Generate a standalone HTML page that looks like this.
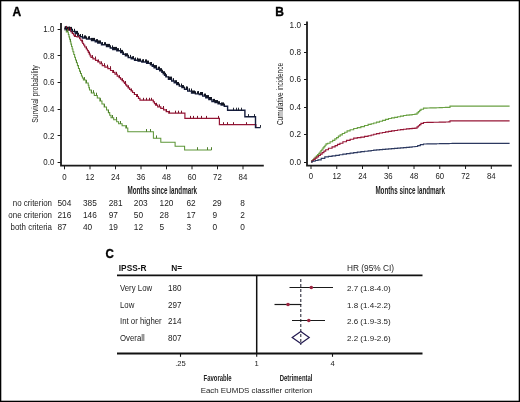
<!DOCTYPE html>
<html><head><meta charset="utf-8"><style>
html,body{margin:0;padding:0;background:#fff;}
svg{display:block;font-family:"Liberation Sans",sans-serif;will-change:transform;}
</style></head><body>
<svg width="520" height="402" viewBox="0 0 520 402">
<rect x="0.65" y="0.65" width="518.7" height="400.7" fill="none" stroke="#000" stroke-width="1.3"/><text x="12.6" y="16.0" font-size="12" text-anchor="start" font-weight="bold" fill="#000" stroke="#000" stroke-width="0.35">A</text><path d="M61,23 V165.7 H263.8" fill="none" stroke="#1a1a1a" stroke-width="1.8"/><line x1="57.6" y1="162.5" x2="61" y2="162.5" stroke="#1a1a1a" stroke-width="1"/><text transform="translate(54.3,165.3) scale(0.93,1)" font-size="8.5" text-anchor="end" font-weight="normal" fill="#222" >0.0</text><line x1="57.6" y1="135.5" x2="61" y2="135.5" stroke="#1a1a1a" stroke-width="1"/><text transform="translate(54.3,138.62) scale(0.93,1)" font-size="8.5" text-anchor="end" font-weight="normal" fill="#222" >0.2</text><line x1="57.6" y1="109.5" x2="61" y2="109.5" stroke="#1a1a1a" stroke-width="1"/><text transform="translate(54.3,111.94) scale(0.93,1)" font-size="8.5" text-anchor="end" font-weight="normal" fill="#222" >0.4</text><line x1="57.6" y1="82.5" x2="61" y2="82.5" stroke="#1a1a1a" stroke-width="1"/><text transform="translate(54.3,85.25999999999999) scale(0.93,1)" font-size="8.5" text-anchor="end" font-weight="normal" fill="#222" >0.6</text><line x1="57.6" y1="55.5" x2="61" y2="55.5" stroke="#1a1a1a" stroke-width="1"/><text transform="translate(54.3,58.57999999999999) scale(0.93,1)" font-size="8.5" text-anchor="end" font-weight="normal" fill="#222" >0.8</text><line x1="57.6" y1="29.5" x2="61" y2="29.5" stroke="#1a1a1a" stroke-width="1"/><text transform="translate(54.3,31.9) scale(0.93,1)" font-size="8.5" text-anchor="end" font-weight="normal" fill="#222" >1.0</text><line x1="64.50" y1="165.6" x2="64.50" y2="169.3" stroke="#1a1a1a" stroke-width="1"/><text transform="translate(64.5,179.7) scale(0.93,1)" font-size="8.5" text-anchor="middle" font-weight="normal" fill="#222" >0</text><line x1="90.00" y1="165.6" x2="90.00" y2="169.3" stroke="#1a1a1a" stroke-width="1"/><text transform="translate(90.0,179.7) scale(0.93,1)" font-size="8.5" text-anchor="middle" font-weight="normal" fill="#222" >12</text><line x1="115.50" y1="165.6" x2="115.50" y2="169.3" stroke="#1a1a1a" stroke-width="1"/><text transform="translate(115.5,179.7) scale(0.93,1)" font-size="8.5" text-anchor="middle" font-weight="normal" fill="#222" >24</text><line x1="141.00" y1="165.6" x2="141.00" y2="169.3" stroke="#1a1a1a" stroke-width="1"/><text transform="translate(141.0,179.7) scale(0.93,1)" font-size="8.5" text-anchor="middle" font-weight="normal" fill="#222" >36</text><line x1="166.50" y1="165.6" x2="166.50" y2="169.3" stroke="#1a1a1a" stroke-width="1"/><text transform="translate(166.5,179.7) scale(0.93,1)" font-size="8.5" text-anchor="middle" font-weight="normal" fill="#222" >48</text><line x1="192.00" y1="165.6" x2="192.00" y2="169.3" stroke="#1a1a1a" stroke-width="1"/><text transform="translate(192.0,179.7) scale(0.93,1)" font-size="8.5" text-anchor="middle" font-weight="normal" fill="#222" >60</text><line x1="217.50" y1="165.6" x2="217.50" y2="169.3" stroke="#1a1a1a" stroke-width="1"/><text transform="translate(217.5,179.7) scale(0.93,1)" font-size="8.5" text-anchor="middle" font-weight="normal" fill="#222" >72</text><line x1="243.00" y1="165.6" x2="243.00" y2="169.3" stroke="#1a1a1a" stroke-width="1"/><text transform="translate(243.0,179.7) scale(0.93,1)" font-size="8.5" text-anchor="middle" font-weight="normal" fill="#222" >84</text><text x="0" y="0" font-size="10.2" font-weight="bold" fill="#222" text-anchor="middle" transform="translate(162.3,193.8) scale(0.615,1)">Months since landmark</text><text x="0" y="0" font-size="8.6" font-weight="normal" fill="#222" text-anchor="middle" transform="translate(38.2,94) rotate(-90) scale(0.8,1)">Survival probability</text><path d="M64.60,28.50H66.30V32.00H68.00H68.32V34.43H68.96V36.86H69.61V39.29H70.25V41.71H70.89V44.14H71.54V46.57H72.18V49.00H72.50H72.92V51.75H73.78V54.50H74.62V57.25H75.48V60.00H75.90H76.41V62.80H77.44V65.60H78.46V68.40H79.49V71.20H80.00H80.47V73.55H81.43V75.90H81.90H82.40V77.90H83.40V79.90H83.90H85.90V82.90H87.90H88.22V85.27H88.85V87.63H89.48V90.00H89.80H91.30V93.00H92.80H94.30V95.50H97.30V98.00H98.80H99.85V101.00H101.95V104.00H103.00H104.17V107.00H106.53V110.00H107.70H108.37V112.60H109.70V115.20H111.03V117.80H111.70H113.70V119.80H115.70H116.67V121.80H118.62V123.80H119.60H122.10V125.80H124.60H125.80V128.00H127.00H127.80V131.80H128.60H153.40V138.20H160.80V142.30H175.10V146.20H184.60V150.00H211.50" fill="none" stroke="#5e9638" stroke-width="1.05" stroke-linejoin="miter"/><path d="M64.60,28.30H67.30V30.00H70.00H70.75V31.75H72.25V33.50H73.00H73.50V35.00H74.50V36.50H75.00H77.00V37.00H79.00H79.62V38.75H80.88V40.50H81.50H81.92V42.00H82.75V43.50H83.58V45.00H84.00H84.75V47.00H86.25V49.00H87.00H87.45V50.70H88.35V52.40H89.25V54.10H90.15V55.80H91.05V57.50H91.50H92.95V58.90H94.40H95.53V60.40H97.78V61.90H98.90H100.03V63.75H102.28V65.60H103.40H104.90V67.10H107.90V68.60H109.40H110.53V70.50H112.78V72.40H113.90H115.00V74.25H117.20V76.10H118.30H119.05V77.60H120.55V79.10H122.05V80.60H122.80H123.36V82.00H124.49V83.40H125.61V84.80H126.74V86.20H127.30H128.05V87.78H129.55V89.35H131.05V90.92H132.55V92.50H133.30H134.40V94.50H136.60V96.50H137.70H138.45V98.35H139.95V100.20H140.70H152.70H153.28V101.87H154.45V103.53H155.62V105.20H156.20H157.72V106.80H160.78V108.40H162.30H163.60V109.97H166.20V111.53H168.80V113.10H170.10H184.90V118.30H219.40V124.60H255.90V127.60" fill="none" stroke="#961636" stroke-width="1.2" stroke-linejoin="miter"/><path d="M64.60,28.80H67.30V29.50H70.00H72.00V31.50H74.00H75.25V33.50H77.75V35.50H79.00H80.25V36.75H82.75V38.00H84.00H86.50V39.00H89.00H91.50V40.50H94.00H95.25V41.75H97.75V43.00H99.00H101.50V44.80H104.00H106.50V46.50H109.00H110.25V48.00H112.75V49.50H114.00H116.80V50.80H119.60H120.70V52.50H122.90V54.20H124.00H125.40V55.85H128.20V57.50H129.60H131.25V58.90H134.55V60.30H136.20H138.07V61.15H141.82V62.00H143.70H146.60V63.20H149.50H150.42V64.70H152.25V66.20H154.08V67.70H155.00H156.55V69.25H159.65V70.80H161.20H161.86V72.33H163.19V73.85H164.51V75.38H165.84V76.90H166.50H168.45V79.20H170.40H171.67V81.00H174.20V82.80H176.73V84.60H178.00H179.30V86.13H181.90V87.67H184.50V89.20H185.80H187.73V91.15H191.57V93.10H193.50H195.43V93.85H199.27V94.60H201.20H202.72V96.15H205.78V97.70H207.30H208.85V99.60H211.95V101.50H213.50H215.03V102.65H218.07V103.80H219.60H221.15V105.00H224.25V106.20H225.80H227.60V110.30H244.90V116.70H255.50V127.60H260.40" fill="none" stroke="#141c3c" stroke-width="1.4" stroke-linejoin="miter"/><line x1="65.50" y1="28.80" x2="65.50" y2="26.20" stroke="#111522" stroke-width="1.0"/><line x1="67.50" y1="29.50" x2="67.50" y2="26.90" stroke="#111522" stroke-width="1.0"/><line x1="68.50" y1="29.50" x2="68.50" y2="26.90" stroke="#111522" stroke-width="1.0"/><line x1="69.50" y1="29.50" x2="69.50" y2="26.90" stroke="#111522" stroke-width="1.0"/><line x1="70.50" y1="29.50" x2="70.50" y2="26.90" stroke="#111522" stroke-width="1.0"/><line x1="71.50" y1="29.50" x2="71.50" y2="26.90" stroke="#111522" stroke-width="1.0"/><line x1="72.50" y1="31.50" x2="72.50" y2="28.90" stroke="#111522" stroke-width="1.0"/><line x1="74.50" y1="31.50" x2="74.50" y2="28.90" stroke="#111522" stroke-width="1.0"/><line x1="74.50" y1="31.50" x2="74.50" y2="28.90" stroke="#111522" stroke-width="1.0"/><line x1="76.50" y1="33.50" x2="76.50" y2="30.90" stroke="#111522" stroke-width="1.0"/><line x1="77.50" y1="33.50" x2="77.50" y2="30.90" stroke="#111522" stroke-width="1.0"/><line x1="78.50" y1="35.50" x2="78.50" y2="32.90" stroke="#111522" stroke-width="1.0"/><line x1="80.50" y1="36.75" x2="80.50" y2="34.15" stroke="#111522" stroke-width="1.0"/><line x1="80.50" y1="36.75" x2="80.50" y2="34.15" stroke="#111522" stroke-width="1.0"/><line x1="82.50" y1="36.75" x2="82.50" y2="34.15" stroke="#111522" stroke-width="1.0"/><line x1="82.50" y1="36.75" x2="82.50" y2="34.15" stroke="#111522" stroke-width="1.0"/><line x1="84.50" y1="38.00" x2="84.50" y2="35.40" stroke="#111522" stroke-width="1.0"/><line x1="85.50" y1="38.00" x2="85.50" y2="35.40" stroke="#111522" stroke-width="1.0"/><line x1="86.50" y1="39.00" x2="86.50" y2="36.40" stroke="#111522" stroke-width="1.0"/><line x1="88.50" y1="39.00" x2="88.50" y2="36.40" stroke="#111522" stroke-width="1.0"/><line x1="89.50" y1="39.00" x2="89.50" y2="36.40" stroke="#111522" stroke-width="1.0"/><line x1="89.50" y1="39.00" x2="89.50" y2="36.40" stroke="#111522" stroke-width="1.0"/><line x1="91.50" y1="40.50" x2="91.50" y2="37.90" stroke="#111522" stroke-width="1.0"/><line x1="92.50" y1="40.50" x2="92.50" y2="37.90" stroke="#111522" stroke-width="1.0"/><line x1="93.50" y1="40.50" x2="93.50" y2="37.90" stroke="#111522" stroke-width="1.0"/><line x1="94.50" y1="40.50" x2="94.50" y2="37.90" stroke="#111522" stroke-width="1.0"/><line x1="96.50" y1="41.75" x2="96.50" y2="39.15" stroke="#111522" stroke-width="1.0"/><line x1="97.50" y1="41.75" x2="97.50" y2="39.15" stroke="#111522" stroke-width="1.0"/><line x1="98.50" y1="43.00" x2="98.50" y2="40.40" stroke="#111522" stroke-width="1.0"/><line x1="99.50" y1="43.00" x2="99.50" y2="40.40" stroke="#111522" stroke-width="1.0"/><line x1="100.50" y1="43.00" x2="100.50" y2="40.40" stroke="#111522" stroke-width="1.0"/><line x1="102.50" y1="44.80" x2="102.50" y2="42.20" stroke="#111522" stroke-width="1.0"/><line x1="102.50" y1="44.80" x2="102.50" y2="42.20" stroke="#111522" stroke-width="1.0"/><line x1="104.50" y1="44.80" x2="104.50" y2="42.20" stroke="#111522" stroke-width="1.0"/><line x1="105.50" y1="44.80" x2="105.50" y2="42.20" stroke="#111522" stroke-width="1.0"/><line x1="106.50" y1="46.50" x2="106.50" y2="43.90" stroke="#111522" stroke-width="1.0"/><line x1="107.50" y1="46.50" x2="107.50" y2="43.90" stroke="#111522" stroke-width="1.0"/><line x1="108.50" y1="46.50" x2="108.50" y2="43.90" stroke="#111522" stroke-width="1.0"/><line x1="109.50" y1="46.50" x2="109.50" y2="43.90" stroke="#111522" stroke-width="1.0"/><line x1="110.50" y1="48.00" x2="110.50" y2="45.40" stroke="#111522" stroke-width="1.0"/><line x1="112.50" y1="48.00" x2="112.50" y2="45.40" stroke="#111522" stroke-width="1.0"/><line x1="113.50" y1="49.50" x2="113.50" y2="46.90" stroke="#111522" stroke-width="1.0"/><line x1="114.50" y1="49.50" x2="114.50" y2="46.90" stroke="#111522" stroke-width="1.0"/><line x1="115.50" y1="49.50" x2="115.50" y2="46.90" stroke="#111522" stroke-width="1.0"/><line x1="116.50" y1="49.50" x2="116.50" y2="46.90" stroke="#111522" stroke-width="1.0"/><line x1="117.50" y1="50.80" x2="117.50" y2="48.20" stroke="#111522" stroke-width="1.0"/><line x1="118.50" y1="50.80" x2="118.50" y2="48.20" stroke="#111522" stroke-width="1.0"/><line x1="120.50" y1="50.80" x2="120.50" y2="48.20" stroke="#111522" stroke-width="1.0"/><line x1="121.50" y1="52.50" x2="121.50" y2="49.90" stroke="#111522" stroke-width="1.0"/><line x1="122.50" y1="52.50" x2="122.50" y2="49.90" stroke="#111522" stroke-width="1.0"/><line x1="123.50" y1="54.20" x2="123.50" y2="51.60" stroke="#111522" stroke-width="1.0"/><line x1="125.50" y1="55.85" x2="125.50" y2="53.25" stroke="#111522" stroke-width="1.0"/><line x1="126.50" y1="55.85" x2="126.50" y2="53.25" stroke="#111522" stroke-width="1.0"/><line x1="127.50" y1="55.85" x2="127.50" y2="53.25" stroke="#111522" stroke-width="1.0"/><line x1="128.50" y1="57.50" x2="128.50" y2="54.90" stroke="#111522" stroke-width="1.0"/><line x1="128.50" y1="57.50" x2="128.50" y2="54.90" stroke="#111522" stroke-width="1.0"/><line x1="130.50" y1="57.50" x2="130.50" y2="54.90" stroke="#111522" stroke-width="1.0"/><line x1="132.50" y1="58.90" x2="132.50" y2="56.30" stroke="#111522" stroke-width="1.0"/><line x1="133.50" y1="58.90" x2="133.50" y2="56.30" stroke="#111522" stroke-width="1.0"/><line x1="133.50" y1="58.90" x2="133.50" y2="56.30" stroke="#111522" stroke-width="1.0"/><line x1="135.50" y1="60.30" x2="135.50" y2="57.70" stroke="#111522" stroke-width="1.0"/><line x1="135.50" y1="60.30" x2="135.50" y2="57.70" stroke="#111522" stroke-width="1.0"/><line x1="137.50" y1="60.30" x2="137.50" y2="57.70" stroke="#111522" stroke-width="1.0"/><line x1="138.50" y1="61.15" x2="138.50" y2="58.55" stroke="#111522" stroke-width="1.0"/><line x1="139.50" y1="61.15" x2="139.50" y2="58.55" stroke="#111522" stroke-width="1.0"/><line x1="140.50" y1="61.15" x2="140.50" y2="58.55" stroke="#111522" stroke-width="1.0"/><line x1="142.50" y1="62.00" x2="142.50" y2="59.40" stroke="#111522" stroke-width="1.0"/><line x1="143.50" y1="62.00" x2="143.50" y2="59.40" stroke="#111522" stroke-width="1.0"/><line x1="143.50" y1="62.00" x2="143.50" y2="59.40" stroke="#111522" stroke-width="1.0"/><line x1="145.50" y1="62.00" x2="145.50" y2="59.40" stroke="#111522" stroke-width="1.0"/><line x1="146.50" y1="62.00" x2="146.50" y2="59.40" stroke="#111522" stroke-width="1.0"/><line x1="147.50" y1="63.20" x2="147.50" y2="60.60" stroke="#111522" stroke-width="1.0"/><line x1="148.50" y1="63.20" x2="148.50" y2="60.60" stroke="#111522" stroke-width="1.0"/><line x1="150.50" y1="64.70" x2="150.50" y2="62.10" stroke="#111522" stroke-width="1.0"/><line x1="151.50" y1="64.70" x2="151.50" y2="62.10" stroke="#111522" stroke-width="1.0"/><line x1="151.50" y1="64.70" x2="151.50" y2="62.10" stroke="#111522" stroke-width="1.0"/><line x1="153.50" y1="66.20" x2="153.50" y2="63.60" stroke="#111522" stroke-width="1.0"/><line x1="154.50" y1="67.70" x2="154.50" y2="65.10" stroke="#111522" stroke-width="1.0"/><line x1="155.50" y1="67.70" x2="155.50" y2="65.10" stroke="#111522" stroke-width="1.0"/><line x1="156.50" y1="67.70" x2="156.50" y2="65.10" stroke="#111522" stroke-width="1.0"/><line x1="158.50" y1="69.25" x2="158.50" y2="66.65" stroke="#111522" stroke-width="1.0"/><line x1="159.50" y1="69.25" x2="159.50" y2="66.65" stroke="#111522" stroke-width="1.0"/><line x1="160.50" y1="70.80" x2="160.50" y2="68.20" stroke="#111522" stroke-width="1.0"/><line x1="161.50" y1="70.80" x2="161.50" y2="68.20" stroke="#111522" stroke-width="1.0"/><line x1="162.50" y1="72.33" x2="162.50" y2="69.73" stroke="#111522" stroke-width="1.0"/><line x1="163.50" y1="73.85" x2="163.50" y2="71.25" stroke="#111522" stroke-width="1.0"/><line x1="164.50" y1="73.85" x2="164.50" y2="71.25" stroke="#111522" stroke-width="1.0"/><line x1="165.50" y1="75.38" x2="165.50" y2="72.78" stroke="#111522" stroke-width="1.0"/><line x1="166.50" y1="76.90" x2="166.50" y2="74.30" stroke="#111522" stroke-width="1.0"/><line x1="168.50" y1="79.20" x2="168.50" y2="76.60" stroke="#111522" stroke-width="1.0"/><line x1="169.50" y1="79.20" x2="169.50" y2="76.60" stroke="#111522" stroke-width="1.0"/><line x1="170.50" y1="79.20" x2="170.50" y2="76.60" stroke="#111522" stroke-width="1.0"/><line x1="171.50" y1="79.20" x2="171.50" y2="76.60" stroke="#111522" stroke-width="1.0"/><line x1="173.50" y1="81.00" x2="173.50" y2="78.40" stroke="#111522" stroke-width="1.0"/><line x1="173.50" y1="81.00" x2="173.50" y2="78.40" stroke="#111522" stroke-width="1.0"/><line x1="175.50" y1="82.80" x2="175.50" y2="80.20" stroke="#111522" stroke-width="1.0"/><line x1="176.50" y1="82.80" x2="176.50" y2="80.20" stroke="#111522" stroke-width="1.0"/><line x1="177.50" y1="84.60" x2="177.50" y2="82.00" stroke="#111522" stroke-width="1.0"/><line x1="178.50" y1="84.60" x2="178.50" y2="82.00" stroke="#111522" stroke-width="1.0"/><line x1="179.50" y1="86.13" x2="179.50" y2="83.53" stroke="#111522" stroke-width="1.0"/><line x1="181.50" y1="86.13" x2="181.50" y2="83.53" stroke="#111522" stroke-width="1.0"/><line x1="182.50" y1="87.67" x2="182.50" y2="85.07" stroke="#111522" stroke-width="1.0"/><line x1="183.50" y1="87.67" x2="183.50" y2="85.07" stroke="#111522" stroke-width="1.0"/><line x1="184.50" y1="89.20" x2="184.50" y2="86.60" stroke="#111522" stroke-width="1.0"/><line x1="186.50" y1="89.20" x2="186.50" y2="86.60" stroke="#111522" stroke-width="1.0"/><line x1="186.50" y1="89.20" x2="186.50" y2="86.60" stroke="#111522" stroke-width="1.0"/><line x1="187.50" y1="89.20" x2="187.50" y2="86.60" stroke="#111522" stroke-width="1.0"/><line x1="189.50" y1="91.15" x2="189.50" y2="88.55" stroke="#111522" stroke-width="1.0"/><line x1="189.50" y1="91.15" x2="189.50" y2="88.55" stroke="#111522" stroke-width="1.0"/><line x1="191.50" y1="91.15" x2="191.50" y2="88.55" stroke="#111522" stroke-width="1.0"/><line x1="192.50" y1="93.10" x2="192.50" y2="90.50" stroke="#111522" stroke-width="1.0"/><line x1="193.50" y1="93.10" x2="193.50" y2="90.50" stroke="#111522" stroke-width="1.0"/><line x1="194.50" y1="93.10" x2="194.50" y2="90.50" stroke="#111522" stroke-width="1.0"/><line x1="195.50" y1="93.85" x2="195.50" y2="91.25" stroke="#111522" stroke-width="1.0"/><line x1="197.50" y1="93.85" x2="197.50" y2="91.25" stroke="#111522" stroke-width="1.0"/><line x1="198.50" y1="93.85" x2="198.50" y2="91.25" stroke="#111522" stroke-width="1.0"/><line x1="198.50" y1="93.85" x2="198.50" y2="91.25" stroke="#111522" stroke-width="1.0"/><line x1="200.50" y1="94.60" x2="200.50" y2="92.00" stroke="#111522" stroke-width="1.0"/><line x1="201.50" y1="94.60" x2="201.50" y2="92.00" stroke="#111522" stroke-width="1.0"/><line x1="202.50" y1="94.60" x2="202.50" y2="92.00" stroke="#111522" stroke-width="1.0"/><line x1="204.50" y1="96.15" x2="204.50" y2="93.55" stroke="#111522" stroke-width="1.0"/><line x1="205.50" y1="96.15" x2="205.50" y2="93.55" stroke="#111522" stroke-width="1.0"/><line x1="206.50" y1="97.70" x2="206.50" y2="95.10" stroke="#111522" stroke-width="1.0"/><line x1="207.50" y1="97.70" x2="207.50" y2="95.10" stroke="#111522" stroke-width="1.0"/><line x1="208.50" y1="97.70" x2="208.50" y2="95.10" stroke="#111522" stroke-width="1.0"/><line x1="209.50" y1="99.60" x2="209.50" y2="97.00" stroke="#111522" stroke-width="1.0"/><line x1="210.50" y1="99.60" x2="210.50" y2="97.00" stroke="#111522" stroke-width="1.0"/><line x1="211.50" y1="99.60" x2="211.50" y2="97.00" stroke="#111522" stroke-width="1.0"/><line x1="213.50" y1="101.50" x2="213.50" y2="98.90" stroke="#111522" stroke-width="1.0"/><line x1="214.50" y1="101.50" x2="214.50" y2="98.90" stroke="#111522" stroke-width="1.0"/><line x1="215.50" y1="102.65" x2="215.50" y2="100.05" stroke="#111522" stroke-width="1.0"/><line x1="216.50" y1="102.65" x2="216.50" y2="100.05" stroke="#111522" stroke-width="1.0"/><line x1="217.50" y1="102.65" x2="217.50" y2="100.05" stroke="#111522" stroke-width="1.0"/><line x1="218.50" y1="103.80" x2="218.50" y2="101.20" stroke="#111522" stroke-width="1.0"/><line x1="219.50" y1="103.80" x2="219.50" y2="101.20" stroke="#111522" stroke-width="1.0"/><line x1="221.50" y1="105.00" x2="221.50" y2="102.40" stroke="#111522" stroke-width="1.0"/><line x1="222.50" y1="105.00" x2="222.50" y2="102.40" stroke="#111522" stroke-width="1.0"/><line x1="223.50" y1="105.00" x2="223.50" y2="102.40" stroke="#111522" stroke-width="1.0"/><line x1="224.50" y1="106.20" x2="224.50" y2="103.60" stroke="#111522" stroke-width="1.0"/><line x1="65" y1="30.5" x2="65" y2="26.5" stroke="#111522" stroke-width="1"/><line x1="66.5" y1="30.5" x2="66.5" y2="26.5" stroke="#111522" stroke-width="1"/><line x1="68" y1="30.5" x2="68" y2="26.5" stroke="#111522" stroke-width="1"/><line x1="69.5" y1="30.5" x2="69.5" y2="26.5" stroke="#111522" stroke-width="1"/><line x1="233.50" y1="110.30" x2="233.50" y2="107.70" stroke="#111522" stroke-width="0.9"/><line x1="236.50" y1="110.30" x2="236.50" y2="107.70" stroke="#111522" stroke-width="0.9"/><line x1="238.50" y1="110.30" x2="238.50" y2="107.70" stroke="#111522" stroke-width="0.9"/><line x1="241.50" y1="110.30" x2="241.50" y2="107.70" stroke="#111522" stroke-width="0.9"/><line x1="248.50" y1="116.70" x2="248.50" y2="114.10" stroke="#111522" stroke-width="0.9"/><line x1="254.50" y1="116.70" x2="254.50" y2="114.10" stroke="#111522" stroke-width="0.9"/><line x1="260.50" y1="127.60" x2="260.50" y2="125.00" stroke="#111522" stroke-width="0.9"/><line x1="66.50" y1="28.30" x2="66.50" y2="25.90" stroke="#7a1228" stroke-width="1.0"/><line x1="68.50" y1="30.00" x2="68.50" y2="27.60" stroke="#7a1228" stroke-width="1.0"/><line x1="70.50" y1="30.00" x2="70.50" y2="27.60" stroke="#7a1228" stroke-width="1.0"/><line x1="72.50" y1="33.50" x2="72.50" y2="31.10" stroke="#7a1228" stroke-width="1.0"/><line x1="75.50" y1="36.50" x2="75.50" y2="34.10" stroke="#7a1228" stroke-width="1.0"/><line x1="78.50" y1="37.00" x2="78.50" y2="34.60" stroke="#7a1228" stroke-width="1.0"/><line x1="82.50" y1="42.00" x2="82.50" y2="39.60" stroke="#7a1228" stroke-width="1.0"/><line x1="86.50" y1="49.00" x2="86.50" y2="46.60" stroke="#7a1228" stroke-width="1.0"/><line x1="89.50" y1="54.10" x2="89.50" y2="51.70" stroke="#7a1228" stroke-width="1.0"/><line x1="92.50" y1="57.50" x2="92.50" y2="55.10" stroke="#7a1228" stroke-width="1.0"/><line x1="95.50" y1="58.90" x2="95.50" y2="56.50" stroke="#7a1228" stroke-width="1.0"/><line x1="98.50" y1="61.90" x2="98.50" y2="59.50" stroke="#7a1228" stroke-width="1.0"/><line x1="101.50" y1="63.75" x2="101.50" y2="61.35" stroke="#7a1228" stroke-width="1.0"/><line x1="104.50" y1="65.60" x2="104.50" y2="63.20" stroke="#7a1228" stroke-width="1.0"/><line x1="107.50" y1="67.10" x2="107.50" y2="64.70" stroke="#7a1228" stroke-width="1.0"/><line x1="110.50" y1="68.60" x2="110.50" y2="66.20" stroke="#7a1228" stroke-width="1.0"/><line x1="113.50" y1="72.40" x2="113.50" y2="70.00" stroke="#7a1228" stroke-width="1.0"/><line x1="116.50" y1="74.25" x2="116.50" y2="71.85" stroke="#7a1228" stroke-width="1.0"/><line x1="119.50" y1="77.60" x2="119.50" y2="75.20" stroke="#7a1228" stroke-width="1.0"/><line x1="122.50" y1="80.60" x2="122.50" y2="78.20" stroke="#7a1228" stroke-width="1.0"/><line x1="125.50" y1="83.40" x2="125.50" y2="81.00" stroke="#7a1228" stroke-width="1.0"/><line x1="128.50" y1="87.78" x2="128.50" y2="85.38" stroke="#7a1228" stroke-width="1.0"/><line x1="131.50" y1="90.92" x2="131.50" y2="88.52" stroke="#7a1228" stroke-width="1.0"/><line x1="134.50" y1="94.50" x2="134.50" y2="92.10" stroke="#7a1228" stroke-width="1.0"/><line x1="137.50" y1="96.50" x2="137.50" y2="94.10" stroke="#7a1228" stroke-width="1.0"/><line x1="143.50" y1="100.20" x2="143.50" y2="97.80" stroke="#7a1228" stroke-width="1.0"/><line x1="146.50" y1="100.20" x2="146.50" y2="97.80" stroke="#7a1228" stroke-width="1.0"/><line x1="149.50" y1="100.20" x2="149.50" y2="97.80" stroke="#7a1228" stroke-width="1.0"/><line x1="151.50" y1="100.20" x2="151.50" y2="97.80" stroke="#7a1228" stroke-width="1.0"/><line x1="156.50" y1="105.20" x2="156.50" y2="102.80" stroke="#7a1228" stroke-width="1.0"/><line x1="159.50" y1="106.80" x2="159.50" y2="104.40" stroke="#7a1228" stroke-width="1.0"/><line x1="163.50" y1="108.40" x2="163.50" y2="106.00" stroke="#7a1228" stroke-width="1.0"/><line x1="166.50" y1="111.53" x2="166.50" y2="109.13" stroke="#7a1228" stroke-width="1.0"/><line x1="169.50" y1="113.10" x2="169.50" y2="110.70" stroke="#7a1228" stroke-width="1.0"/><line x1="175.50" y1="113.10" x2="175.50" y2="110.70" stroke="#7a1228" stroke-width="1.0"/><line x1="178.50" y1="113.10" x2="178.50" y2="110.70" stroke="#7a1228" stroke-width="1.0"/><line x1="181.50" y1="113.10" x2="181.50" y2="110.70" stroke="#7a1228" stroke-width="1.0"/><line x1="190.50" y1="118.30" x2="190.50" y2="115.90" stroke="#7a1228" stroke-width="1.0"/><line x1="193.50" y1="118.30" x2="193.50" y2="115.90" stroke="#7a1228" stroke-width="1.0"/><line x1="197.50" y1="118.30" x2="197.50" y2="115.90" stroke="#7a1228" stroke-width="1.0"/><line x1="201.50" y1="118.30" x2="201.50" y2="115.90" stroke="#7a1228" stroke-width="1.0"/><line x1="206.50" y1="118.30" x2="206.50" y2="115.90" stroke="#7a1228" stroke-width="1.0"/><line x1="218.50" y1="118.30" x2="218.50" y2="115.90" stroke="#7a1228" stroke-width="1.0"/><line x1="223.50" y1="124.60" x2="223.50" y2="122.20" stroke="#7a1228" stroke-width="1.0"/><line x1="227.50" y1="124.60" x2="227.50" y2="122.20" stroke="#7a1228" stroke-width="1.0"/><line x1="233.50" y1="124.60" x2="233.50" y2="122.20" stroke="#7a1228" stroke-width="1.0"/><line x1="246.50" y1="124.60" x2="246.50" y2="122.20" stroke="#7a1228" stroke-width="1.0"/><line x1="67.50" y1="32.00" x2="67.50" y2="29.20" stroke="#4f7f2e" stroke-width="1.0"/><line x1="70.50" y1="41.71" x2="70.50" y2="38.91" stroke="#4f7f2e" stroke-width="1.0"/><line x1="76.50" y1="62.80" x2="76.50" y2="60.00" stroke="#4f7f2e" stroke-width="1.0"/><line x1="80.50" y1="73.55" x2="80.50" y2="70.75" stroke="#4f7f2e" stroke-width="1.0"/><line x1="84.50" y1="79.90" x2="84.50" y2="77.10" stroke="#4f7f2e" stroke-width="1.0"/><line x1="86.50" y1="82.90" x2="86.50" y2="80.10" stroke="#4f7f2e" stroke-width="1.0"/><line x1="91.50" y1="93.00" x2="91.50" y2="90.20" stroke="#4f7f2e" stroke-width="1.0"/><line x1="93.50" y1="93.00" x2="93.50" y2="90.20" stroke="#4f7f2e" stroke-width="1.0"/><line x1="96.50" y1="95.50" x2="96.50" y2="92.70" stroke="#4f7f2e" stroke-width="1.0"/><line x1="100.50" y1="101.00" x2="100.50" y2="98.20" stroke="#4f7f2e" stroke-width="1.0"/><line x1="104.50" y1="107.00" x2="104.50" y2="104.20" stroke="#4f7f2e" stroke-width="1.0"/><line x1="108.50" y1="112.60" x2="108.50" y2="109.80" stroke="#4f7f2e" stroke-width="1.0"/><line x1="112.50" y1="117.80" x2="112.50" y2="115.00" stroke="#4f7f2e" stroke-width="1.0"/><line x1="116.50" y1="119.80" x2="116.50" y2="117.00" stroke="#4f7f2e" stroke-width="1.0"/><line x1="120.50" y1="123.80" x2="120.50" y2="121.00" stroke="#4f7f2e" stroke-width="1.0"/><line x1="126.50" y1="128.00" x2="126.50" y2="125.20" stroke="#4f7f2e" stroke-width="1.0"/><line x1="146.50" y1="131.80" x2="146.50" y2="129.00" stroke="#4f7f2e" stroke-width="1.0"/><line x1="150.50" y1="131.80" x2="150.50" y2="129.00" stroke="#4f7f2e" stroke-width="1.0"/><line x1="156.50" y1="138.20" x2="156.50" y2="135.40" stroke="#4f7f2e" stroke-width="1.0"/><line x1="197.50" y1="150.00" x2="197.50" y2="147.20" stroke="#4f7f2e" stroke-width="1.0"/><line x1="207.50" y1="150.00" x2="207.50" y2="147.20" stroke="#4f7f2e" stroke-width="1.0"/><line x1="211.50" y1="150.00" x2="211.50" y2="147.20" stroke="#4f7f2e" stroke-width="1.0"/><text transform="translate(52,205.8) scale(0.97,1)" font-size="8.2" text-anchor="end" font-weight="normal" fill="#222" >no criterion</text><text x="57.5" y="205.8" font-size="8.3" text-anchor="start" font-weight="normal" fill="#222" >504</text><text x="83" y="205.8" font-size="8.3" text-anchor="start" font-weight="normal" fill="#222" >385</text><text x="108.7" y="205.8" font-size="8.3" text-anchor="start" font-weight="normal" fill="#222" >281</text><text x="133.8" y="205.8" font-size="8.3" text-anchor="start" font-weight="normal" fill="#222" >203</text><text x="159.6" y="205.8" font-size="8.3" text-anchor="start" font-weight="normal" fill="#222" >120</text><text x="186.5" y="205.8" font-size="8.3" text-anchor="start" font-weight="normal" fill="#222" >62</text><text x="212.5" y="205.8" font-size="8.3" text-anchor="start" font-weight="normal" fill="#222" >29</text><text x="240.2" y="205.8" font-size="8.3" text-anchor="start" font-weight="normal" fill="#222" >8</text><text transform="translate(52,217.65) scale(0.97,1)" font-size="8.2" text-anchor="end" font-weight="normal" fill="#222" >one criterion</text><text x="57.5" y="217.65" font-size="8.3" text-anchor="start" font-weight="normal" fill="#222" >216</text><text x="83" y="217.65" font-size="8.3" text-anchor="start" font-weight="normal" fill="#222" >146</text><text x="108.7" y="217.65" font-size="8.3" text-anchor="start" font-weight="normal" fill="#222" >97</text><text x="133.8" y="217.65" font-size="8.3" text-anchor="start" font-weight="normal" fill="#222" >50</text><text x="159.6" y="217.65" font-size="8.3" text-anchor="start" font-weight="normal" fill="#222" >28</text><text x="186.5" y="217.65" font-size="8.3" text-anchor="start" font-weight="normal" fill="#222" >17</text><text x="212.5" y="217.65" font-size="8.3" text-anchor="start" font-weight="normal" fill="#222" >9</text><text x="240.2" y="217.65" font-size="8.3" text-anchor="start" font-weight="normal" fill="#222" >2</text><text transform="translate(52,229.5) scale(0.97,1)" font-size="8.2" text-anchor="end" font-weight="normal" fill="#222" >both criteria</text><text x="57.5" y="229.5" font-size="8.3" text-anchor="start" font-weight="normal" fill="#222" >87</text><text x="83" y="229.5" font-size="8.3" text-anchor="start" font-weight="normal" fill="#222" >40</text><text x="108.7" y="229.5" font-size="8.3" text-anchor="start" font-weight="normal" fill="#222" >19</text><text x="133.8" y="229.5" font-size="8.3" text-anchor="start" font-weight="normal" fill="#222" >12</text><text x="159.6" y="229.5" font-size="8.3" text-anchor="start" font-weight="normal" fill="#222" >5</text><text x="186.5" y="229.5" font-size="8.3" text-anchor="start" font-weight="normal" fill="#222" >3</text><text x="212.5" y="229.5" font-size="8.3" text-anchor="start" font-weight="normal" fill="#222" >0</text><text x="240.2" y="229.5" font-size="8.3" text-anchor="start" font-weight="normal" fill="#222" >0</text><text x="275.3" y="15.9" font-size="12" text-anchor="start" font-weight="bold" fill="#000" stroke="#000" stroke-width="0.35">B</text><path d="M307,21.5 V165.6 H511.8" fill="none" stroke="#1a1a1a" stroke-width="1.8"/><line x1="304" y1="162.5" x2="307" y2="162.5" stroke="#1a1a1a" stroke-width="1"/><text x="301.0" y="164.8" font-size="8.2" text-anchor="end" font-weight="normal" fill="#222" >0.0</text><line x1="304" y1="134.5" x2="307" y2="134.5" stroke="#1a1a1a" stroke-width="1"/><text x="301.0" y="137.36" font-size="8.2" text-anchor="end" font-weight="normal" fill="#222" >0.2</text><line x1="304" y1="107.5" x2="307" y2="107.5" stroke="#1a1a1a" stroke-width="1"/><text x="301.0" y="109.92" font-size="8.2" text-anchor="end" font-weight="normal" fill="#222" >0.4</text><line x1="304" y1="79.5" x2="307" y2="79.5" stroke="#1a1a1a" stroke-width="1"/><text x="301.0" y="82.47999999999999" font-size="8.2" text-anchor="end" font-weight="normal" fill="#222" >0.6</text><line x1="304" y1="52.5" x2="307" y2="52.5" stroke="#1a1a1a" stroke-width="1"/><text x="301.0" y="55.040000000000006" font-size="8.2" text-anchor="end" font-weight="normal" fill="#222" >0.8</text><line x1="304" y1="24.5" x2="307" y2="24.5" stroke="#1a1a1a" stroke-width="1"/><text x="301.0" y="27.600000000000012" font-size="8.2" text-anchor="end" font-weight="normal" fill="#222" >1.0</text><line x1="311.00" y1="165.5" x2="311.00" y2="169" stroke="#1a1a1a" stroke-width="1"/><text transform="translate(311.0,179.4) scale(0.95,1)" font-size="8.2" text-anchor="middle" font-weight="normal" fill="#222" >0</text><line x1="336.76" y1="165.5" x2="336.76" y2="169" stroke="#1a1a1a" stroke-width="1"/><text transform="translate(336.76,179.4) scale(0.95,1)" font-size="8.2" text-anchor="middle" font-weight="normal" fill="#222" >12</text><line x1="362.51" y1="165.5" x2="362.51" y2="169" stroke="#1a1a1a" stroke-width="1"/><text transform="translate(362.51,179.4) scale(0.95,1)" font-size="8.2" text-anchor="middle" font-weight="normal" fill="#222" >24</text><line x1="388.27" y1="165.5" x2="388.27" y2="169" stroke="#1a1a1a" stroke-width="1"/><text transform="translate(388.27,179.4) scale(0.95,1)" font-size="8.2" text-anchor="middle" font-weight="normal" fill="#222" >36</text><line x1="414.03" y1="165.5" x2="414.03" y2="169" stroke="#1a1a1a" stroke-width="1"/><text transform="translate(414.03,179.4) scale(0.95,1)" font-size="8.2" text-anchor="middle" font-weight="normal" fill="#222" >48</text><line x1="439.78" y1="165.5" x2="439.78" y2="169" stroke="#1a1a1a" stroke-width="1"/><text transform="translate(439.78,179.4) scale(0.95,1)" font-size="8.2" text-anchor="middle" font-weight="normal" fill="#222" >60</text><line x1="465.54" y1="165.5" x2="465.54" y2="169" stroke="#1a1a1a" stroke-width="1"/><text transform="translate(465.54,179.4) scale(0.95,1)" font-size="8.2" text-anchor="middle" font-weight="normal" fill="#222" >72</text><line x1="491.30" y1="165.5" x2="491.30" y2="169" stroke="#1a1a1a" stroke-width="1"/><text transform="translate(491.3,179.4) scale(0.95,1)" font-size="8.2" text-anchor="middle" font-weight="normal" fill="#222" >84</text><text x="0" y="0" font-size="10.2" font-weight="bold" fill="#222" text-anchor="middle" transform="translate(410.2,193.6) scale(0.615,1)">Months since landmark</text><text x="0" y="0" font-size="8.8" font-weight="normal" fill="#222" text-anchor="middle" transform="translate(283.3,94) rotate(-90) scale(0.745,1)">Cumulative incidence</text><path d="M311.00,162.00H311.60V160.76H312.80V159.51H314.00V158.27H315.20V157.03H316.40V155.79H317.60V154.54H318.80V153.30H319.40H319.91V151.96H320.94V150.61H321.97V149.27H323.00V147.93H324.03V146.59H325.06V145.24H326.09V143.90H326.60H327.70V143.20H328.80H330.07V141.75H332.62V140.30H333.90H334.80V138.93H336.60V137.55H338.40V136.18H340.20V134.80H341.10H342.30V133.50H344.70V132.20H347.10V130.90H348.30H350.10V129.70H353.70V128.50H355.50H357.30V127.55H360.90V126.60H362.70H364.50V125.50H368.10V124.40H369.90H371.17V123.70H373.73V123.00H375.00H376.50V122.10H379.50V121.20H382.50V120.30H385.50V119.40H388.50V118.50H390.00H391.50V117.90H394.50V117.30H397.50V116.70H400.50V116.10H403.50V115.50H405.00H406.43V115.15H409.27V114.80H412.12V114.45H414.97V114.10H416.40H417.05V112.88H418.35V111.65H419.65V110.42H420.95V109.20H421.60H423.50V108.10H425.40H426.94V108.00H430.01V107.90H433.09V107.80H436.16V107.70H439.24V107.60H442.31V107.50H445.39V107.40H448.46V107.30H450.00V106.10H509.60" fill="none" stroke="#69a042" stroke-width="1.15" stroke-linejoin="miter"/><path d="M311.00,162.00H311.84V160.70H313.52V159.40H315.20V158.10H316.88V156.80H318.56V155.50H319.40H320.30V154.05H322.10V152.60H323.90V151.15H325.70V149.70H326.60H328.43V148.25H332.07V146.80H333.90H335.10V145.60H337.50V144.40H339.90V143.20H341.10H342.90V141.75H346.50V140.30H348.30H350.10V139.20H353.70V138.10H355.50H357.30V137.60H360.90V137.10H362.70H364.50V136.40H368.10V135.70H369.90H371.17V134.95H373.73V134.20H375.00H376.50V133.62H379.50V133.04H382.50V132.46H385.50V131.88H388.50V131.30H390.00H391.50V130.88H394.50V130.46H397.50V130.04H400.50V129.62H403.50V129.20H405.00H406.43V128.92H409.27V128.65H412.12V128.38H414.97V128.10H416.40H417.05V126.92H418.35V125.75H419.65V124.58H420.95V123.40H421.60H423.50V122.50H425.40H426.94V122.42H430.01V122.35H433.09V122.28H436.16V122.20H439.24V122.12H442.31V122.05H445.39V121.98H448.46V121.90H450.00V120.90H509.60" fill="none" stroke="#961636" stroke-width="1.15" stroke-linejoin="miter"/><path d="M311.00,162.00H312.40V161.27H315.20V160.53H318.00V159.80H319.40H321.20V158.35H324.80V156.90H326.60H328.43V156.40H332.07V155.90H333.90H335.70V155.30H339.30V154.70H341.10H342.90V154.15H346.50V153.60H348.30H350.10V153.10H353.70V152.60H355.50H357.30V152.10H360.90V151.60H362.70H364.50V151.20H368.10V150.80H369.90H371.17V150.45H373.73V150.10H375.00H376.50V149.84H379.50V149.58H382.50V149.32H385.50V149.06H388.50V148.80H390.00H391.50V148.56H394.50V148.32H397.50V148.08H400.50V147.84H403.50V147.60H405.00H406.43V147.32H409.27V147.05H412.12V146.78H414.97V146.50H416.40H417.70V145.55H420.30V144.60H421.60H423.50V144.00H425.40H426.97V143.94H430.12V143.87H433.26V143.81H436.41V143.75H439.55V143.68H442.70V143.62H445.85V143.55H448.99V143.49H452.14V143.43H455.28V143.36H458.43V143.30H460.00H509.60" fill="none" stroke="#2c3960" stroke-width="1.15" stroke-linejoin="miter"/><text transform="translate(105.6,257.8) scale(0.92,1)" font-size="12.6" text-anchor="start" font-weight="bold" fill="#000" stroke="#000" stroke-width="0.35">C</text><text x="118.8" y="270.8" font-size="8.3" text-anchor="start" font-weight="bold" fill="#111" >IPSS-R</text><text x="171.3" y="270.8" font-size="8.3" text-anchor="start" font-weight="bold" fill="#111" >N=</text><text x="347" y="270.5" font-size="8.3" text-anchor="start" font-weight="normal" fill="#222" >HR (95% CI)</text><line x1="117" y1="275.4" x2="422.5" y2="275.4" stroke="#111" stroke-width="1.8"/><line x1="117" y1="353.5" x2="422.5" y2="353.5" stroke="#111" stroke-width="1.8"/><line x1="256.7" y1="275.4" x2="256.7" y2="353.5" stroke="#111" stroke-width="1.5"/><line x1="300.8" y1="279" x2="300.8" y2="345" stroke="#1a1a2a" stroke-width="1" stroke-dasharray="3,2"/><text transform="translate(120,290.9) scale(0.92,1)" font-size="8.5" text-anchor="start" font-weight="normal" fill="#222" >Very Low</text><text transform="translate(168,290.9) scale(0.95,1)" font-size="8.5" text-anchor="start" font-weight="normal" fill="#222" >180</text><text x="347" y="290.5" font-size="8.0" text-anchor="start" font-weight="normal" fill="#222" >2.7 (1.8-4.0)</text><line x1="289.5" y1="287.5" x2="333" y2="287.5" stroke="#1a1a1a" stroke-width="1.2"/><circle cx="311.3" cy="287.5" r="1.8" fill="#9a2540"/><text transform="translate(120,307.9) scale(0.92,1)" font-size="8.5" text-anchor="start" font-weight="normal" fill="#222" >Low</text><text transform="translate(168,307.9) scale(0.95,1)" font-size="8.5" text-anchor="start" font-weight="normal" fill="#222" >297</text><text x="347" y="307.5" font-size="8.0" text-anchor="start" font-weight="normal" fill="#222" >1.8 (1.4-2.2)</text><line x1="274.5" y1="304.5" x2="301.3" y2="304.5" stroke="#1a1a1a" stroke-width="1.2"/><circle cx="288" cy="304.5" r="1.8" fill="#9a2540"/><text transform="translate(120,323.9) scale(0.92,1)" font-size="8.5" text-anchor="start" font-weight="normal" fill="#222" >Int or higher</text><text transform="translate(168,323.9) scale(0.95,1)" font-size="8.5" text-anchor="start" font-weight="normal" fill="#222" >214</text><text x="347" y="323.5" font-size="8.0" text-anchor="start" font-weight="normal" fill="#222" >2.6 (1.9-3.5)</text><line x1="292" y1="320.5" x2="325" y2="320.5" stroke="#1a1a1a" stroke-width="1.2"/><circle cx="308.8" cy="320.5" r="1.8" fill="#9a2540"/><text transform="translate(120,340.9) scale(0.92,1)" font-size="8.5" text-anchor="start" font-weight="normal" fill="#222" >Overall</text><text transform="translate(168,340.9) scale(0.95,1)" font-size="8.5" text-anchor="start" font-weight="normal" fill="#222" >807</text><text x="347" y="340.5" font-size="8.0" text-anchor="start" font-weight="normal" fill="#222" >2.2 (1.9-2.6)</text><path d="M292.2,337.5 L300.8,331.6 L309.2,337.5 L300.8,343.4 Z" fill="none" stroke="#231a50" stroke-width="1.2"/><line x1="180.5" y1="353.5" x2="180.5" y2="356.8" stroke="#111" stroke-width="1.1"/><text x="180.5" y="366.3" font-size="7.6" text-anchor="middle" font-weight="normal" fill="#222" >.25</text><line x1="256.7" y1="353.5" x2="256.7" y2="356.8" stroke="#111" stroke-width="1.1"/><text x="256.7" y="366.3" font-size="7.6" text-anchor="middle" font-weight="normal" fill="#222" >1</text><line x1="332.5" y1="353.5" x2="332.5" y2="356.8" stroke="#111" stroke-width="1.1"/><text x="332.5" y="366.3" font-size="7.6" text-anchor="middle" font-weight="normal" fill="#222" >4</text><text x="0" y="0" font-size="8.4" font-weight="bold" fill="#222" text-anchor="middle" transform="translate(217.6,380.5) scale(0.71,1)">Favorable</text><text x="0" y="0" font-size="8.4" font-weight="bold" fill="#222" text-anchor="middle" transform="translate(296.1,380.5) scale(0.71,1)">Detrimental</text><text x="256.6" y="393.3" font-size="7.9" text-anchor="middle" font-weight="normal" fill="#222" >Each EUMDS classifier criterion</text>
</svg></body></html>
